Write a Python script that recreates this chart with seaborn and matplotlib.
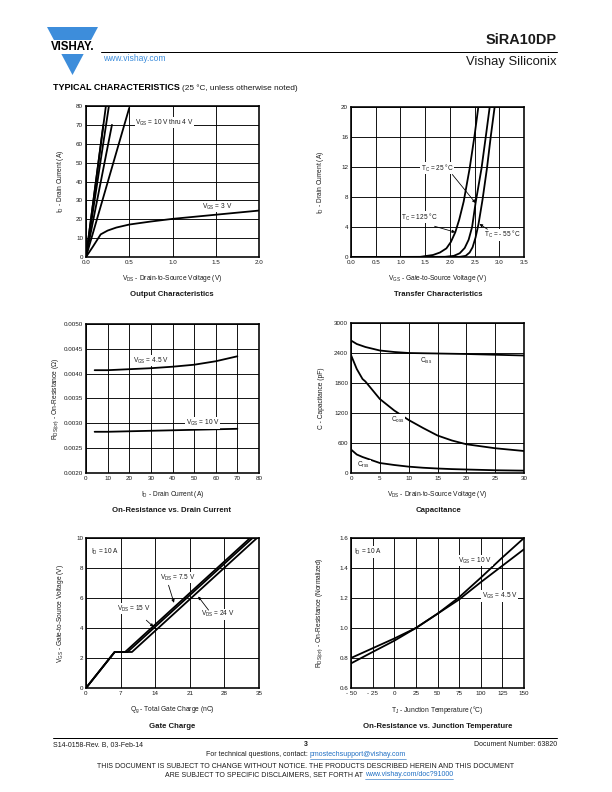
import matplotlib
matplotlib.use("Agg")
import matplotlib.pyplot as plt
from matplotlib.patches import Polygon
import seaborn as sns

# ---- data ----
# Output characteristics (V_GS = 10 V thru 4 V are near-straight lines)
out_hi_vds = [[0.0, 0.20], [0.0, 0.23], [0.0, 0.265], [0.0, 0.30], [0.0, 0.50]]
out_hi_id = [[0, 70], [0, 80], [0, 80], [0, 70], [0, 79]]
out_3v_vds = [0.0, 0.08, 0.17, 0.25, 0.35, 0.5, 0.75, 1.0, 1.25, 1.5, 1.75, 2.0]
out_3v_id = [0.0, 5.5, 12.0, 14.0, 15.6, 17.2, 18.8, 20.2, 21.3, 22.4, 23.5, 24.6]

# Transfer characteristics
tr_125_vgs = [0.0, 1.4, 1.66, 1.8, 1.93, 2.02, 2.11, 2.19, 2.28, 2.40, 2.50, 2.58]
tr_125_id = [0.0, 0.02, 0.27, 0.6, 1.15, 2.0, 3.3, 5.0, 7.4, 11.8, 16.2, 20.2]
tr_25_vgs = [0.0, 1.9, 2.08, 2.2, 2.30, 2.38, 2.45, 2.52, 2.64, 2.73, 2.81]
tr_25_id = [0.0, 0.02, 0.15, 0.5, 1.2, 2.3, 4.0, 7.2, 11.8, 16.2, 20.2]
tr_m55_vgs = [0.0, 2.2, 2.32, 2.40, 2.46, 2.52, 2.58, 2.66, 2.75, 2.83, 2.91]
tr_m55_id = [0.0, 0.02, 0.15, 0.6, 1.3, 2.6, 4.4, 7.6, 11.8, 16.2, 20.2]

# On-resistance vs. drain current
rds_id = [4, 10, 20, 30, 40, 50, 60, 70]
rds_45v = [0.00407, 0.00407, 0.00409, 0.00411, 0.00414, 0.00418, 0.00425, 0.00435]
rds_10v = [0.00283, 0.00283, 0.00284, 0.00285, 0.00286, 0.00287, 0.00288, 0.00289]

# Capacitance
cap_vds = [0, 1, 2, 2.5, 5, 7.5, 10, 12.5, 15, 17.5, 20, 25, 30]
ciss = [2650, 2580, 2540, 2520, 2450, 2420, 2400, 2395, 2390, 2385, 2380, 2365, 2350]
coss = [2360, 2080, 1880, 1830, 1480, 1250, 1060, 900, 750, 650, 575, 495, 440]
crss = [470, 370, 320, 300, 200, 160, 127, 105, 90, 78, 70, 55, 47]

# Gate charge, I_D = 10 A
gc_75_q = [0, 5.8, 7.9, 33.2]
gc_15_q = [0, 5.8, 8.4, 33.7]
gc_24_q = [0, 5.8, 9.3, 34.6]
gc_vgs = [0, 2.4, 2.4, 10]

# On-resistance vs. junction temperature
tj = [-50, -25, 0, 25, 50, 75, 100, 125, 150]
rn_10v = [0.764, 0.84, 0.915, 1.0, 1.095, 1.205, 1.335, 1.47, 1.60]
rn_45v = [0.80, 0.865, 0.93, 1.0, 1.095, 1.19, 1.305, 1.415, 1.525]

# ---- page setup ----
sns.set_theme(style="white")
plt.rcParams["font.family"] = ["Liberation Sans", "DejaVu Sans"]
plt.rcParams["mathtext.fontset"] = "custom"
plt.rcParams["mathtext.rm"] = "Liberation Sans"
plt.rcParams["mathtext.it"] = "Liberation Sans:italic"
plt.rcParams["mathtext.bf"] = "Liberation Sans:bold"
plt.rcParams["mathtext.default"] = "regular"

W, H = 612, 792
fig = plt.figure(figsize=(W / 72, H / 72), dpi=72)
fig.patch.set_facecolor("white")

page = fig.add_axes([0, 0, 1, 1])
page.set_xlim(0, W)
page.set_ylim(H, 0)
page.axis("off")

BLUE = "#3d8ddb"
LINK = "#1f6fc4"
TXT = "#1a1a1a"
LW = 1.8
FS = 6.3


def panel(left, top, right, bottom):
    return fig.add_axes([left / W, 1 - bottom / H, (right - left) / W, (bottom - top) / H])


def style(ax, xlim, ylim, xticks, yticks, xlabels, ylabels, xlabel, ylabel, ylab_x):
    ax.set_xlim(xlim)
    ax.set_ylim(ylim)
    ax.set_xticks(xticks)
    ax.set_yticks(yticks)
    ax.set_xticklabels(xlabels)
    ax.set_yticklabels(ylabels)
    ax.grid(True, color="black", lw=0.9)
    ax.set_axisbelow(True)
    for s in ax.spines.values():
        s.set_visible(True)
        s.set_color("black")
        s.set_linewidth(1.6)
    ax.tick_params(length=0, labelsize=FS, pad=3, colors=TXT)
    ax.set_xlabel(xlabel, fontsize=FS + 0.3, color=TXT)
    ax.set_ylabel(ylabel, fontsize=FS + 0.3, color=TXT)
    ax.xaxis.set_label_coords(0.5, -0.105)
    ax.yaxis.set_label_coords(ylab_x, 0.5)


def note(ax, x, y, s, ha="left"):
    ax.text(x, y, s, fontsize=FS + 0.2, color=TXT, ha=ha, va="center",
            bbox=dict(fc="white", ec="none", pad=0.6), zorder=5)


def arrow(ax, start, tip):
    ax.annotate("", xy=tip, xytext=start,
                arrowprops=dict(arrowstyle="-|>", color="black", lw=0.8,
                                mutation_scale=6, shrinkA=0, shrinkB=0), zorder=6)


def curve(ax, x, y):
    sns.lineplot(x=x, y=y, ax=ax, color="black", lw=LW, sort=False, estimator=None)


# ---- header ----
page.add_patch(Polygon([(47, 27), (98, 27), (72.5, 75)], closed=True, fc=BLUE, ec="none"))
page.add_patch(Polygon([(40, 40), (104, 40), (104, 54), (40, 54)], closed=True, fc="white", ec="none"))
page.text(72.5, 47.5, "VISHAY.", fontsize=11.5, fontweight="heavy", ha="center", va="center", color="black")
page.plot([101, 557], [52, 52], color="black", lw=1.0)
page.text(557, 40, "SiRA10DP", fontsize=14.5, fontweight="bold", ha="right", va="center", color=TXT)
page.text(557, 62, "Vishay Siliconix", fontsize=13, ha="right", va="center", color=TXT)
page.text(103, 58.5, "www.vishay.com", fontsize=8.5, ha="left", va="center", color=BLUE)
t1 = page.text(53, 88, "TYPICAL CHARACTERISTICS", fontsize=9, fontweight="heavy", ha="left", va="center", color="black")

# ---- footer ----
page.plot([53, 557], [738, 738], color="black", lw=1.0)
page.text(53, 744.5, "S14-0158-Rev. B, 03-Feb-14", fontsize=7, ha="left", va="center", color=TXT)
page.text(306, 744.5, "3", fontsize=7, fontweight="bold", ha="center", va="center", color=TXT)
page.text(557, 744.5, "Document Number: 63820", fontsize=7, ha="right", va="center", color=TXT)
page.text(310, 755, "For technical questions, contact: ", fontsize=7, ha="right", va="center", color=TXT)
mail = page.text(310, 755, "pmostechsupport@vishay.com", fontsize=7, ha="left", va="center", color=LINK)
page.text(306, 766, "THIS DOCUMENT IS SUBJECT TO CHANGE WITHOUT NOTICE. THE PRODUCTS DESCRIBED HEREIN AND THIS DOCUMENT",
          fontsize=7, ha="center", va="center", color=TXT)
page.text(365, 775, "ARE SUBJECT TO SPECIFIC DISCLAIMERS, SET FORTH AT ", fontsize=7, ha="right", va="center", color=TXT)
doc = page.text(365, 775, "www.vishay.com/doc?91000", fontsize=7, ha="left", va="center", color=LINK)

# ---- 1: output characteristics ----
ax1 = panel(86, 106, 259, 257)
for xs, ys in zip(out_hi_vds, out_hi_id):
    curve(ax1, xs, ys)
curve(ax1, out_3v_vds, out_3v_id)
style(ax1, (0, 2.0), (0, 80), [0, 0.5, 1.0, 1.5, 2.0], range(0, 81, 10),
      ["0.0", "0.5", "1.0", "1.5", "2.0"], [str(v) for v in range(0, 81, 10)],
      "$V_{DS}$ - Drain-to-Source Voltage (V)", "$I_D$ - Drain Current (A)", -0.113)
note(ax1, 0.57, 71.2, "$V_{GS}$ = 10 V thru 4 V")
note(ax1, 1.34, 26.7, "$V_{GS}$ = 3 V")

# ---- 2: transfer characteristics ----
ax2 = panel(351, 107, 524, 257)
curve(ax2, tr_125_vgs, tr_125_id)
curve(ax2, tr_25_vgs, tr_25_id)
curve(ax2, tr_m55_vgs, tr_m55_id)
style(ax2, (0, 3.5), (0, 20), [0, 0.5, 1.0, 1.5, 2.0, 2.5, 3.0, 3.5], range(0, 21, 4),
      ["0.0", "0.5", "1.0", "1.5", "2.0", "2.5", "3.0", "3.5"], [str(v) for v in range(0, 21, 4)],
      "$V_{GS}$ - Gate-to-Source Voltage (V)", "$I_D$ - Drain Current (A)", -0.143)
note(ax2, 1.41, 11.84, "$T_C$ = 25 °C")
arrow(ax2, (2.05, 11.0), (2.52, 7.2))
note(ax2, 1.02, 5.3, "$T_C$ = 125 °C")
arrow(ax2, (1.69, 4.1), (2.11, 3.3))
note(ax2, 2.70, 2.97, "$T_C$ = - 55 °C")
arrow(ax2, (2.76, 3.7), (2.60, 4.4))

# ---- 3: on-resistance vs. drain current ----
ax3 = panel(86, 324, 259, 473)
curve(ax3, rds_id, rds_45v)
curve(ax3, rds_id, rds_10v)
yt3 = [0.0020, 0.0025, 0.0030, 0.0035, 0.0040, 0.0045, 0.0050]
style(ax3, (0, 80), (0.0020, 0.0050), range(0, 81, 10), yt3,
      [str(v) for v in range(0, 81, 10)], [f"{v:.4f}" for v in yt3],
      "$I_D$ - Drain Current (A)", "$R_{DS(on)}$ - On-Resistance (Ω)", -0.143)
note(ax3, 21.7, 0.00426, "$V_{GS}$ = 4.5 V")
note(ax3, 46.2, 0.00301, "$V_{GS}$ = 10 V")

# ---- 4: capacitance ----
ax4 = panel(351, 323, 524, 473)
curve(ax4, cap_vds, ciss)
curve(ax4, cap_vds, coss)
curve(ax4, cap_vds, crss)
style(ax4, (0, 30), (0, 3000), range(0, 31, 5), range(0, 3001, 600),
      [str(v) for v in range(0, 31, 5)], [str(v) for v in range(0, 3001, 600)],
      "$V_{DS}$ - Drain-to-Source Voltage (V)", "C - Capacitance (pF)", -0.153)
note(ax4, 11.9, 2251, "$C_{iss}$")
note(ax4, 6.9, 1062, "$C_{oss}$")
note(ax4, 1.1, 154, "$C_{rss}$")

# ---- 5: gate charge ----
ax5 = panel(86, 538, 259, 688)
curve(ax5, gc_75_q, gc_vgs)
curve(ax5, gc_15_q, gc_vgs)
curve(ax5, gc_24_q, gc_vgs)
style(ax5, (0, 35), (0, 10), range(0, 36, 7), range(0, 11, 2),
      [str(v) for v in range(0, 36, 7)], [str(v) for v in range(0, 11, 2)],
      "$Q_g$ - Total Gate Charge (nC)", "$V_{GS}$ - Gate-to-Source Voltage (V)", -0.113)
note(ax5, 1.07, 9.07, "$I_D$ = 10 A")
note(ax5, 15.0, 7.37, "$V_{DS}$ = 7.5 V")
arrow(ax5, (16.7, 6.85), (17.8, 5.68))
note(ax5, 6.26, 5.3, "$V_{DS}$ = 15 V")
arrow(ax5, (12.2, 4.52), (13.66, 4.08))
note(ax5, 23.2, 4.92, "$V_{DS}$ = 24 V")
arrow(ax5, (24.8, 5.19), (22.7, 6.1))

# ---- 6: on-resistance vs. junction temperature ----
ax6 = panel(351, 538, 524, 688)
curve(ax6, tj, rn_10v)
curve(ax6, tj, rn_45v)
yt6 = [0.6, 0.8, 1.0, 1.2, 1.4, 1.6]
style(ax6, (-50, 150), (0.6, 1.6), range(-50, 151, 25), yt6,
      [f"- {-v}" if v < 0 else str(v) for v in range(-50, 151, 25)], [f"{v:.1f}" for v in yt6],
      "$T_J$ - Junction Temperature (°C)", "$R_{DS(on)}$ - On-Resistance (Normalized)", -0.15)
note(ax6, -46.6, 1.507, "$I_D$ = 10 A")
note(ax6, 73.7, 1.45, "$V_{GS}$ = 10 V")
note(ax6, 101.4, 1.214, "$V_{GS}$ = 4.5 V")

# ---- panel titles ----
for cx, cy, s in [(172, 294, "Output Characteristics"), (438, 294, "Transfer Characteristics"),
                  (172, 510, "On-Resistance vs. Drain Current"), (438, 510, "Capacitance"),
                  (172, 726, "Gate Charge"), (438, 726, "On-Resistance vs. Junction Temperature")]:
    page.text(cx, cy, s, fontsize=7.7, fontweight="bold", ha="center", va="center", color=TXT)

# ---- trailing text / link underlines need rendered extents ----
fig.canvas.draw()
inv = page.transData.inverted()
bb = t1.get_window_extent()
x_end = inv.transform((bb.x1, bb.y0))[0]
page.text(x_end + 2, 88, "(25 °C, unless otherwise noted)", fontsize=8.3, ha="left", va="center", color=TXT)
for t in (mail, doc):
    b = t.get_window_extent()
    (xa, ya), (xb, _) = inv.transform((b.x0, b.y0)), inv.transform((b.x1, b.y0))
    page.plot([xa, xb], [ya + 0.5, ya + 0.5], color=LINK, lw=0.6)

fig.savefig("out.png", dpi=72, facecolor="white")
